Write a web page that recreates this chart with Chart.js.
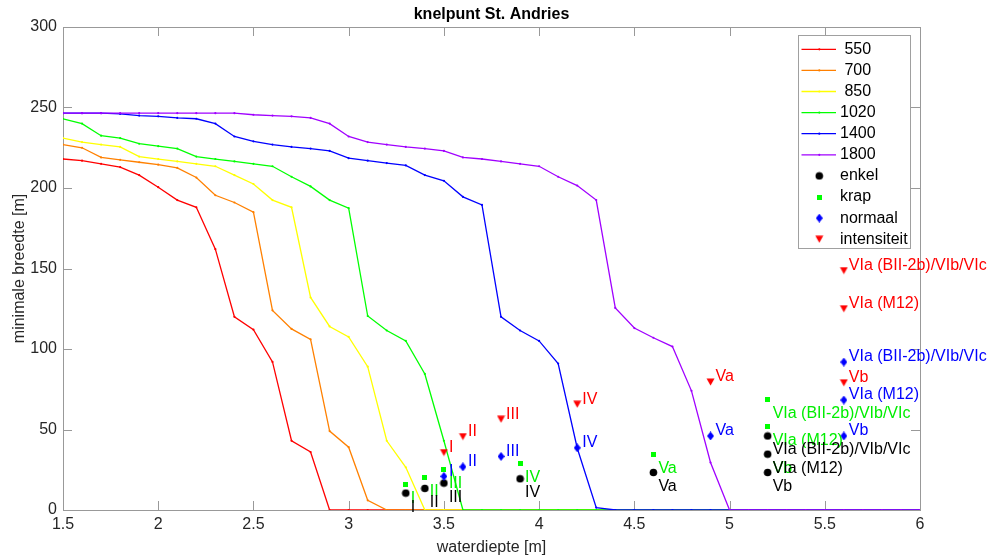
<!DOCTYPE html>
<html>
<head>
<meta charset="utf-8">
<script src="https://cdn.jsdelivr.net/npm/chart.js@4/dist/chart.umd.min.js"></script>
<style>
html,body{margin:0;padding:0;background:#ffffff;}
#wrap{width:989px;height:557px;}
</style>
</head>
<body>
<div id="wrap"><canvas id="c" width="989" height="557"></canvas></div>
<script>
// ---------- DATA ----------
const depth = [
  1.5,1.6,1.7,1.8,1.9,2.0,2.1,2.2,2.3,2.4,
  2.5,2.6,2.7,2.8,2.9,3.0,3.1,3.2,3.3,3.4,
  3.5,3.6,3.7,3.8,3.9,4.0,4.1,4.2,4.3,4.4,
  4.5,4.6,4.7,4.8,4.9,5.0,5.1,5.2,5.3,5.4,
  5.5,5.6,5.7,5.8,5.9,6.0
];
const seriesNames = ['550','700','850','1020','1400','1800'];
const w550 = [
  218,217,215,213,208,200.5,192.5,188,162,120,
  112,92,43,36,0,0,0,0,0,0,
  0,0,0,0,0,0,0,0,0,0,
  0,0,0,0,0,0,0,0,0,0,
  0,0,0,0,0,0
];
const w700 = [
  227,225,219,217.5,216,214.5,212.5,206.5,195.5,191,
  185,124,112.5,106,49,39,6,0,0,0,
  0,0,0,0,0,0,0,0,0,0,
  0,0,0,0,0,0,0,0,0,0,
  0,0,0,0,0,0
];
const w850 = [
  231,228.5,227,225.5,219.5,218,216.5,215,213.5,208,
  202.5,192.5,188,132,114,107.5,89,43,26.5,0,
  0,0,0,0,0,0,0,0,0,0,
  0,0,0,0,0,0,0,0,0,0,
  0,0,0,0,0,0
];
const w1020 = [
  243,240,232.5,231,227.5,226,224.5,219.5,218,216.5,
  215,213.5,207,201,192.5,187.5,120.5,111.5,105,84.5,
  43,0,0,0,0,0,0,0,0,0,
  0,0,0,0,0,0,0,0,0,0,
  0,0,0,0,0,0
];
const w1400 = [
  246.5,246.5,246.5,246,245,244.5,243.5,243,240,232,
  229,227,225.5,224.5,223,218.5,217,215.5,214,208,
  204.5,194.5,189.5,120,111.5,105,91,38.5,1.5,0,
  0,0,0,0,0,0,0,0,0,0,
  0,0,0,0,0,0
];
const w1800 = [
  246.5,246.5,246.5,246.5,246.5,246.5,246.5,246.5,246.5,246.5,
  245.5,245,244.5,243.5,240,232,228.5,227,225.5,224.5,
  223,219,218,216.5,215,213.5,207,201.5,192.5,125.5,
  113,107,101.5,74,29.5,0,0,0,0,0,
  0,0,0,0,0,0
];

const pointNames = ['enkel','krap','normaal','intensiteit'];
const enkelX = [3.3,3.4,3.5,3.9,4.6,5.2,5.2,5.2];
const enkelY = [10.5,13.4,16.7,19.4,23.3,46,34.7,23.3];
const enkelLbl = ['I','II','III','IV','Va','VIa (BII-2b)/VIb/VIc','VIa (M12)','Vb'];
const krapX = [3.3,3.4,3.5,3.9,4.6,5.2,5.2,5.2];
const krapY = [15.7,20.2,25,29,34.3,68.8,51.6,34.7];
const krapLbl = ['I','II','III','IV','Va','VIa (BII-2b)/VIb/VIc','VIa (M12)','Vb'];
const normaalX = [3.5,3.6,3.8,4.2,4.9,5.6,5.6,5.6];
const normaalY = [20.9,26.8,33.3,38.6,46,91.9,68.3,46];
const normaalLbl = ['I','II','III','IV','Va','VIa (BII-2b)/VIb/VIc','VIa (M12)','Vb'];
const intensX = [3.5,3.6,3.8,4.2,4.9,5.6,5.6,5.6];
const intensY = [35.7,45.6,56.4,65.7,79.5,148.7,125,79];
const intensLbl = ['I','II','III','IV','Va','VIa (BII-2b)/VIb/VIc','VIa (M12)','Vb'];

const xTicks = [1.5,2,2.5,3,3.5,4,4.5,5,5.5,6];
const yTicks = [0,50,100,150,200,250,300];

// ---------- STYLE ----------
const FONT = 'Liberation Sans, Arial, Helvetica, sans-serif';
Chart.defaults.font.family = FONT;
const lineColors = ['#ff0000','#ff8000','#ffff00','#00ff00','#0000ff','#a000ff'];
const txtColor = '#262626';
const axisColor = '#999999';

function mk(w,h,draw){const c=document.createElement('canvas');c.width=w;c.height=h;const g=c.getContext('2d');draw(g,w,h);return c;}
const imgCircle = mk(9,9,(g)=>{g.fillStyle='#000';g.beginPath();g.arc(4.5,4.5,3.8,0,Math.PI*2);g.fill();});
const imgSquare = mk(5,5,(g)=>{g.fillStyle='#00ff00';g.fillRect(0,0,5,5);});
const imgDiamond = mk(7,9,(g,w,h)=>{g.fillStyle='#0000ff';g.beginPath();g.moveTo(w/2,0);g.lineTo(w,h/2);g.lineTo(w/2,h);g.lineTo(0,h/2);g.closePath();g.fill();});
const imgTri = mk(9,8,(g,w,h)=>{g.fillStyle='#ff0000';g.beginPath();g.moveTo(0.5,0.5);g.lineTo(w-0.5,0.5);g.lineTo(w/2,h-0.5);g.closePath();g.fill();});

const lineSeries = [w550,w700,w850,w1020,w1400,w1800];
const datasets = lineSeries.map((arr,i)=>({
  type:'line',
  label: seriesNames[i],
  data: depth.map((x,j)=>({x:x,y:arr[j]})),
  borderColor: lineColors[i],
  backgroundColor: lineColors[i],
  borderWidth: 1.3,
  pointRadius: 1.1,
  pointBorderWidth: 0,
  pointHoverRadius: 0,
  tension: 0,
  fill: false,
  order: 10 - i,
  _kind: 'line'
}));
function pts(xs,ys){return xs.map((x,j)=>({x:x,y:ys[j]}));}
datasets.push({type:'scatter',label:pointNames[0],data:pts(enkelX,enkelY),pointStyle:imgCircle,order:2,_labels:enkelLbl,_color:'#000000',_dy:14,_img:imgCircle});
datasets.push({type:'scatter',label:pointNames[1],data:pts(krapX,krapY),pointStyle:imgSquare,order:3,_labels:krapLbl,_color:'#00ee00',_dy:14,_img:imgSquare});
datasets.push({type:'scatter',label:pointNames[2],data:pts(normaalX,normaalY),pointStyle:imgDiamond,order:1,_labels:normaalLbl,_color:'#0000ff',_dy:-5,_img:imgDiamond});
datasets.push({type:'scatter',label:pointNames[3],data:pts(intensX,intensY),pointStyle:imgTri,order:0,_labels:intensLbl,_color:'#ff0000',_dy:-5,_img:imgTri});

// ---------- PLUGINS ----------
const framePlugin = {
  id:'frame',
  beforeDatasetsDraw(chart){
    const ctx = chart.ctx, a = chart.chartArea;
    const xs = chart.scales.x, ys = chart.scales.y;
    ctx.save();
    ctx.strokeStyle = axisColor; ctx.lineWidth = 1;
    ctx.strokeRect(Math.round(a.left)+0.5, Math.round(a.top)+0.5, Math.round(a.right-a.left), Math.round(a.bottom-a.top));
    const tl = 9;
    ctx.beginPath();
    xTicks.forEach(v=>{
      const px = Math.round(xs.getPixelForValue(v))+0.5;
      ctx.moveTo(px, a.bottom); ctx.lineTo(px, a.bottom - tl);
      ctx.moveTo(px, a.top); ctx.lineTo(px, a.top + tl);
    });
    yTicks.forEach(v=>{
      const py = Math.round(ys.getPixelForValue(v))+0.5;
      ctx.moveTo(a.left, py); ctx.lineTo(a.left + tl, py);
      ctx.moveTo(a.right, py); ctx.lineTo(a.right - tl, py);
    });
    ctx.stroke();
    ctx.restore();
  }
};

const labelPlugin = {
  id:'pointLabels',
  afterDatasetsDraw(chart){
    const ctx = chart.ctx;
    ctx.save();
    ctx.font = '16px ' + FONT;
    ctx.textAlign = 'left';
    ctx.textBaseline = 'middle';
    // draw in order: krap, enkel, normaal, intensiteit
    const orderIdx = [7,6,8,9];
    orderIdx.forEach(di=>{
      const ds = chart.data.datasets[di];
      const meta = chart.getDatasetMeta(di);
      ctx.fillStyle = ds._color;
      meta.data.forEach((el,j)=>{
        ctx.fillText(ds._labels[j], el.x + 5, el.y + ds._dy);
      });
    });
    ctx.restore();
  },
  afterDraw(chart){
    // legend box
    const ctx = chart.ctx, a = chart.chartArea;
    const x1 = Math.round(a.right) - 10, x0 = x1 - 112;
    const y0 = Math.round(a.top) + 8, y1 = y0 + 213;
    ctx.save();
    ctx.fillStyle = '#ffffff';
    ctx.fillRect(x0, y0, x1-x0, y1-y0);
    ctx.strokeStyle = '#a0a0a0'; ctx.lineWidth = 1;
    ctx.strokeRect(x0+0.5, y0+0.5, x1-x0, y1-y0);
    ctx.font = '16px ' + FONT;
    ctx.textAlign = 'left'; ctx.textBaseline = 'middle';
    chart.data.datasets.forEach((ds,i)=>{
      const y = y0 + 14.3 + i*21.1;
      const mx = x0 + 21.3;
      if (ds._kind === 'line'){
        ctx.strokeStyle = ds.borderColor; ctx.lineWidth = 1.3;
        ctx.beginPath(); ctx.moveTo(x0+3.5, y); ctx.lineTo(x0+38, y); ctx.stroke();
        ctx.fillStyle = ds.borderColor;
        ctx.beginPath(); ctx.arc(mx, y, 1.1, 0, Math.PI*2); ctx.fill();
      } else {
        const im = ds._img;
        ctx.drawImage(im, mx - im.width/2, y - im.height/2);
      }
      ctx.fillStyle = '#000000';
      ctx.fillText(ds.label.padStart(4,' '), x0 + 42, y);
    });
    ctx.restore();
  }
};

// ---------- CHART ----------
new Chart(document.getElementById('c'), {
  type: 'scatter',
  data: { datasets: datasets },
  options: {
    responsive: false,
    animation: false,
    devicePixelRatio: 1,
    layout: { padding: { left: 0, right: 69, top: 0, bottom: 0 } },
    plugins: {
      legend: { display: false },
      tooltip: { enabled: false },
      title: {
        display: true,
        text: 'knelpunt St. Andries',
        fullSize: false,
        color: '#000000',
        font: { size: 16, weight: 'bold', family: FONT },
        padding: { top: 5, bottom: 2.8 }
      }
    },
    scales: {
      x: {
        type: 'linear', min: 1.5, max: 6,
        afterFit(s){ s.height = 47; },
        ticks: { stepSize: 0.5, padding: 5, color: txtColor, font: { size: 16, family: FONT }, maxRotation: 0, autoSkip: false,
                 callback: (v)=> String(v) },
        grid: { display: false, drawTicks: false },
        border: { display: false },
        title: { display: true, text: 'waterdiepte [m]', color: txtColor, font: { size: 16, family: FONT }, padding: { top: 0, bottom: 0 } }
      },
      y: {
        type: 'linear', min: 0, max: 300,
        afterFit(s){ s.width = 63; },
        ticks: { stepSize: 50, padding: 6, color: txtColor, font: { size: 16, family: FONT }, callback: (v)=> String(v) },
        grid: { display: false, drawTicks: false },
        border: { display: false },
        title: { display: true, text: 'minimale breedte [m]', color: txtColor, font: { size: 16, family: FONT }, padding: { top: 9.5, bottom: 0 } }
      }
    }
  },
  plugins: [framePlugin, labelPlugin]
});
</script>
</body>
</html>
